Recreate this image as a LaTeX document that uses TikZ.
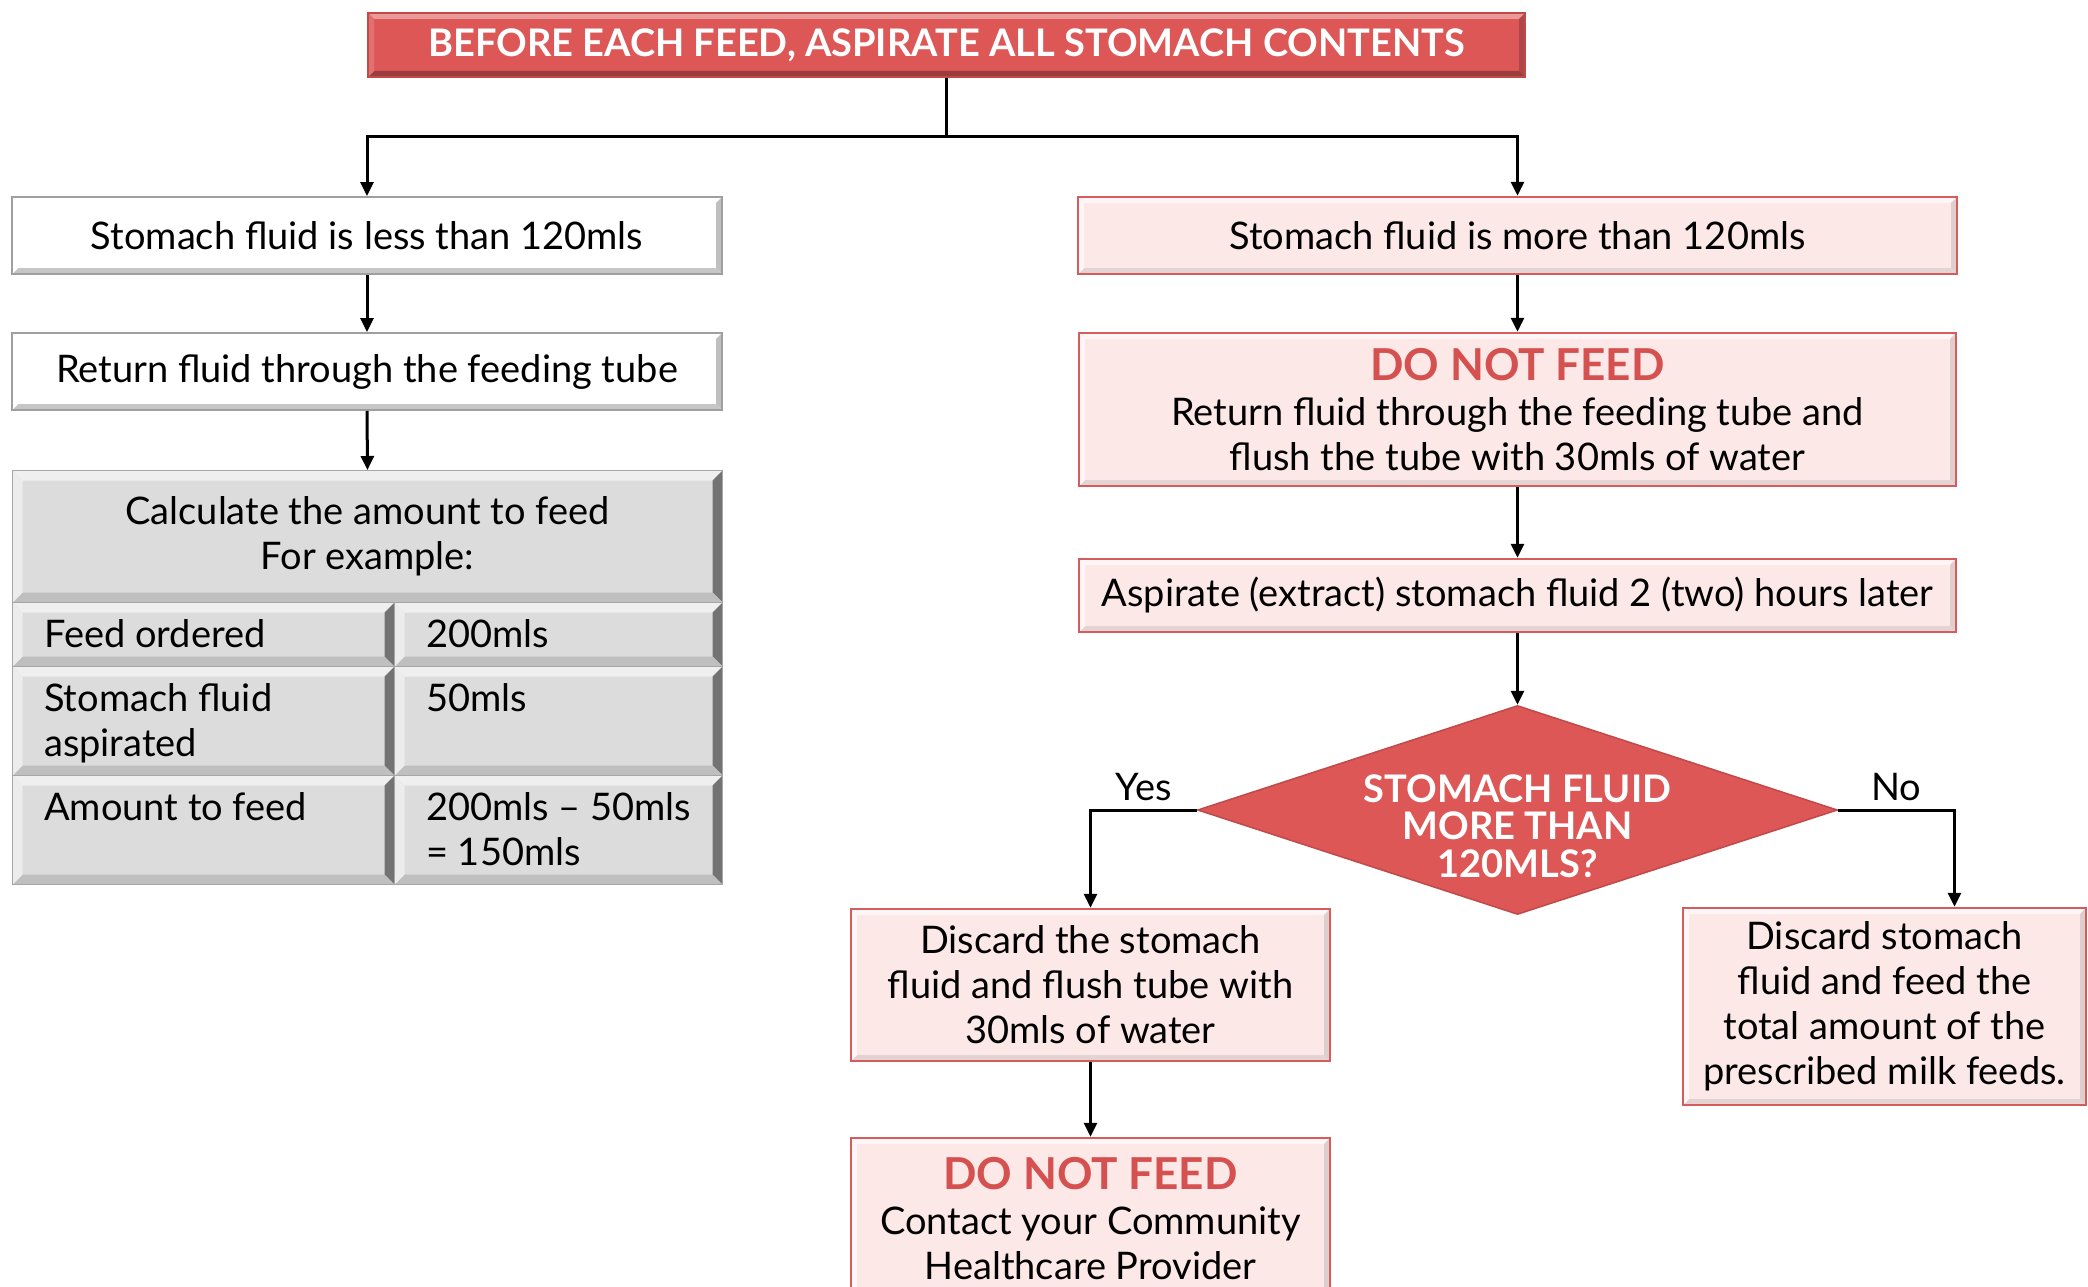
\documentclass[tikz,border=0pt]{standalone}
\usepackage{fontspec}
\setmainfont{Lato}
\usetikzlibrary{arrows.meta,calc,shapes.geometric,positioning}

\definecolor{alertred}{HTML}{DE5757}
\definecolor{alertedge}{HTML}{C04A4A}
\definecolor{softpink}{HTML}{FDE8E8}
\definecolor{pinkline}{HTML}{D45C5C}
\definecolor{warnred}{HTML}{D5514F}
\definecolor{cellgray}{HTML}{DCDCDC}
\newcommand{\donotfeed}{{\color{warnred}\fontsize{44}{48}\selectfont\bfseries DO NOT FEED}}

\begin{document}
\begin{tikzpicture}[x=1pt,y=-1pt,>={Triangle[width=13pt,length=14pt]},
  every node/.style={font=\fontsize{38}{45}\selectfont},
  link/.style={->,line width=3pt},
  bevel/.style n args={5}{path picture={
    \fill[#1] (path picture bounding box.north west) -- (path picture bounding box.north east)
      -- ([xshift=-#5,yshift=-#5]path picture bounding box.north east)
      -- ([xshift=#5,yshift=-#5]path picture bounding box.north west) -- cycle;
    \fill[#2] (path picture bounding box.north east) -- (path picture bounding box.south east)
      -- ([xshift=-#5,yshift=#5]path picture bounding box.south east)
      -- ([xshift=-#5,yshift=-#5]path picture bounding box.north east) -- cycle;
    \fill[#3] (path picture bounding box.south east) -- (path picture bounding box.south west)
      -- ([xshift=#5,yshift=#5]path picture bounding box.south west)
      -- ([xshift=-#5,yshift=#5]path picture bounding box.south east) -- cycle;
    \fill[#4] (path picture bounding box.south west) -- (path picture bounding box.north west)
      -- ([xshift=#5,yshift=-#5]path picture bounding box.north west)
      -- ([xshift=#5,yshift=#5]path picture bounding box.south west) -- cycle;}},
  headbox/.style={draw=alertedge,line width=1.5pt,fill=alertred,text=white,
    font=\fontsize{38}{45}\selectfont\bfseries,
    bevel={alertred!60!white}{alertred!80!black}{alertred!70!black}{alertred!85!white}{6pt}},
  plainbox/.style={draw=gray!75,line width=2pt,fill=white,align=center,
    bevel={white}{gray!50}{gray!45}{white}{6pt}},
  pinkbox/.style={draw=pinkline,line width=2.5pt,fill=softpink,align=center,
    bevel={white!60!softpink}{softpink!75!gray}{softpink!80!gray}{white!60!softpink}{6pt}},
  cell/.style={draw=gray!70,line width=1pt,fill=cellgray,anchor=north west,inner sep=0pt,
    bevel={white!55!cellgray}{black!55}{black!25}{white!45!cellgray}{10pt}},
  celltext/.style={anchor=north west,inner sep=0pt,align=left},
  decision/.style={diamond,aspect=3,inner sep=0pt,minimum width=640pt,minimum height=209pt,
    draw=alertedge,line width=1.5pt,fill=alertred,text=white,
    font=\fontsize{38}{32.5}\selectfont\bfseries}]
  \useasboundingbox (0,0) rectangle (2088,1287);

  % top instruction
  \node[headbox,minimum width=1157pt,minimum height=64pt] (top) at (946.5,45)
    {BEFORE EACH FEED, ASPIRATE ALL STOMACH CONTENTS};
  \coordinate (split) at (946.5,137);

  % left branch
  \node[plainbox,minimum width=710pt,minimum height=77pt] (lless) at (367,235.5)
    {Stomach fluid is less than 120mls};
  \node[plainbox,minimum width=710pt,minimum height=77pt] (lret) at (367,371.5)
    {Return fluid through the feeding tube};
  \node[cell,minimum width=710pt,minimum height=132pt,align=center] (head) at (12,470)
    {Calculate the amount to feed\\For example:};
  \node[cell,minimum width=382pt,minimum height=64pt] (ordL) at (12,602) {};
  \node[cell,minimum width=328pt,minimum height=64pt] (ordR) at (394,602) {};
  \node[cell,minimum width=382pt,minimum height=109pt] (aspL) at (12,666) {};
  \node[cell,minimum width=328pt,minimum height=109pt] (aspR) at (394,666) {};
  \node[cell,minimum width=382pt,minimum height=109pt] (amtL) at (12,775) {};
  \node[cell,minimum width=328pt,minimum height=109pt] (amtR) at (394,775) {};
  \node[celltext] (tordL) at ([xshift=32pt,yshift=-17pt]ordL.north west) {Feed ordered};
  \node[celltext] (tordR) at ([xshift=32pt,yshift=-17pt]ordR.north west) {200mls};
  \node[celltext] (taspL) at ([xshift=32pt,yshift=-17pt]aspL.north west) {Stomach fluid\\aspirated};
  \node[celltext] (taspR) at ([xshift=32pt,yshift=-17pt]aspR.north west) {50mls};
  \node[celltext] (tamtL) at ([xshift=32pt,yshift=-17pt]amtL.north west) {Amount to feed};
  \node[celltext] (tamtR) at ([xshift=32pt,yshift=-17pt]amtR.north west) {200mls -- 50mls\\= 150mls};

  % right branch
  \node[pinkbox,minimum width=879pt,minimum height=77pt] (rmore) at (1517.5,235.5)
    {Stomach fluid is more than 120mls};
  \node[pinkbox,minimum width=877pt,minimum height=153pt] (rstop) at (1517.5,409.5)
    {\donotfeed\\Return fluid through the feeding tube and\\flush the tube with 30mls of water};
  \node[pinkbox,minimum width=877pt,minimum height=73pt] (rasp) at (1517.5,595.5)
    {Aspirate (extract) stomach fluid 2 (two) hours later};
  \node[decision] (dia) at (1517.5,810)
    {\raisebox{-27pt}[0pt][0pt]{\begin{tabular}{@{}c@{}}STOMACH FLUID\\MORE THAN\\120MLS?\end{tabular}}};
  \node[pinkbox,minimum width=479pt,minimum height=152pt] (yesbox) at (1090.5,985)
    {Discard the stomach\\fluid and flush tube with\\30mls of water};
  \node[pinkbox,minimum width=479pt,minimum height=162pt] (callbox) at (1090.5,1219)
    {\donotfeed\\Contact your Community\\Healthcare Provider};
  \node[pinkbox,minimum width=403pt,minimum height=197pt] (nobox) at (1884.5,1006.5)
    {Discard stomach\\fluid and feed the\\total amount of the\\prescribed milk feeds.};

  % connectors
  \draw[link] (top.south) -- (split) -| (lless.north);
  \draw[link] (split) -| (rmore.north);
  \draw[link] (lless.south) -- (lret.north);
  \draw[link] (lret.south) -- (head.north);
  \draw[link] (rmore.south) -- (rstop.north);
  \draw[link] (rstop.south) -- (rasp.north);
  \draw[link] (rasp.south) -- (dia.north);
  \draw[link] (dia.west) -| node[pos=0.25,above=4pt] {Yes} (yesbox.north);
  \draw[link] (dia.east) -| node[pos=0.25,above=4pt] {No} ([xshift=70pt]nobox.north);
  \draw[link] (yesbox.south) -- (callbox.north);
\end{tikzpicture}
\end{document}
